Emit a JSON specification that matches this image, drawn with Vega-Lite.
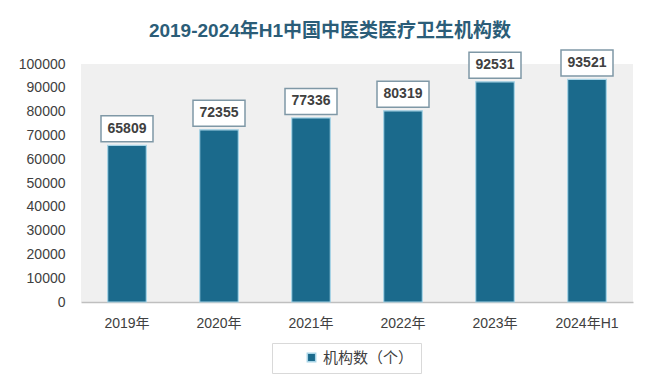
{
  "$schema": "https://vega.github.io/schema/vega-lite/v6.json",
  "autosize": "none",
  "width": 552,
  "height": 238,
  "padding": {"left": 81, "top": 64, "right": 27, "bottom": 90},
  "background": "white",
  "title": {
    "text": "2019-2024年H1中国中医类医疗卫生机构数",
    "font": "Liberation Sans, Noto Sans CJK SC",
    "fontSize": 19,
    "fontWeight": "bold",
    "color": "#2b5d78",
    "anchor": "middle",
    "dx": -27,
    "offset": 6
  },
  "config": {
    "view": {"stroke": null, "fill": "#f0f0f0"},
    "font": "Liberation Sans, Noto Sans CJK SC"
  },
  "data": {
    "values": [
      {"year": "2019年", "value": 65809, "series": "机构数（个）"},
      {"year": "2020年", "value": 72355, "series": "机构数（个）"},
      {"year": "2021年", "value": 77336, "series": "机构数（个）"},
      {"year": "2022年", "value": 80319, "series": "机构数（个）"},
      {"year": "2023年", "value": 92531, "series": "机构数（个）"},
      {"year": "2024年H1", "value": 93521, "series": "机构数（个）"}
    ]
  },
  "encoding": {
    "x": {
      "field": "year",
      "type": "nominal",
      "sort": null,
      "scale": {"paddingInner": 0.58, "paddingOuter": 0.29},
      "axis": {
        "title": null,
        "labelAngle": 0,
        "ticks": false,
        "domain": true,
        "domainColor": "#bfbfbf",
        "domainWidth": 1.5,
        "labelFontSize": 14,
        "labelColor": "#404040",
        "labelPadding": 14,
        "labelFont": "Liberation Sans, Noto Sans CJK SC"
      }
    },
    "y": {
      "field": "value",
      "type": "quantitative",
      "scale": {"domain": [0, 100000]},
      "axis": {
        "title": null,
        "values": [0, 10000, 20000, 30000, 40000, 50000, 60000, 70000, 80000, 90000, 100000],
        "format": "d",
        "domain": false,
        "ticks": false,
        "grid": false,
        "labelFontSize": 14,
        "labelColor": "#404040",
        "labelPadding": 16,
        "labelFont": "Liberation Sans"
      }
    }
  },
  "layer": [
    {
      "mark": {"type": "bar", "stroke": "#a8d4e6", "strokeWidth": 1.2},
      "encoding": {
        "color": {
          "field": "series",
          "type": "nominal",
          "scale": {"range": ["#1b6a8c"]},
          "legend": {
            "title": null,
            "orient": "none",
            "legendX": 191,
            "legendY": 279,
            "direction": "horizontal",
            "padding": 7,
            "strokeColor": "#d9d9d9",
            "fillColor": "white",
            "symbolType": "square",
            "symbolSize": 70,
            "symbolOffset": 25,
            "labelFontSize": 15,
            "labelColor": "#404040",
            "labelFont": "Noto Sans CJK SC",
            "labelExpr": "datum.label + '\u3000\u3000'"
          }
        }
      }
    },
    {
      "mark": {
        "type": "point",
        "shape": "M-1,-0.5H1V0.5H-1Z",
        "size": 2704,
        "filled": true,
        "fill": "white",
        "opacity": 1,
        "stroke": "#7f98a6",
        "strokeWidth": 1.5,
        "yOffset": -16.5
      }
    },
    {
      "mark": {
        "type": "text",
        "fontSize": 14,
        "fontWeight": "bold",
        "color": "#404040",
        "font": "Liberation Sans",
        "baseline": "middle",
        "yOffset": -16.5
      },
      "encoding": {"text": {"field": "value", "type": "quantitative", "format": "d"}}
    }
  ]
}
